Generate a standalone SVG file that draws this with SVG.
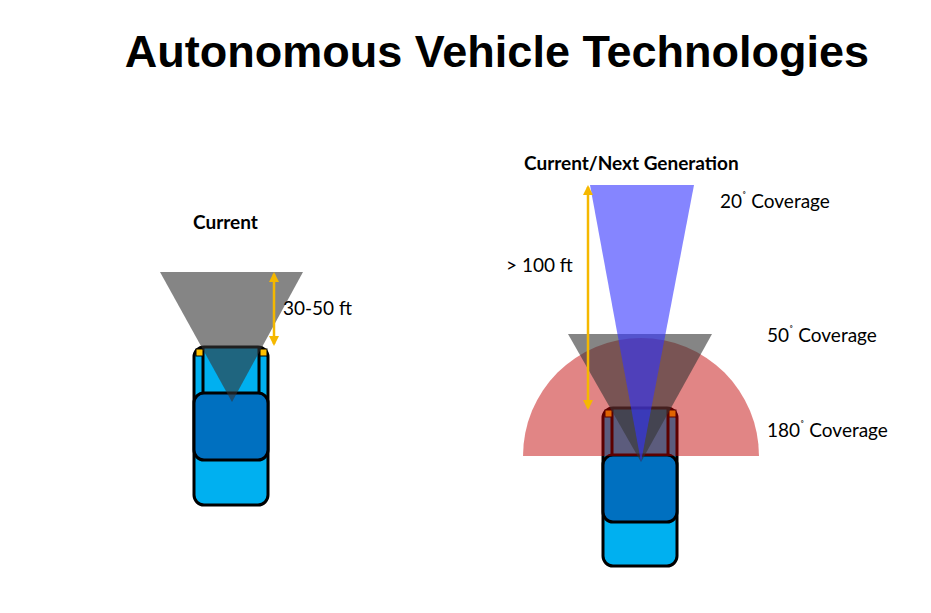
<svg xmlns="http://www.w3.org/2000/svg" width="931" height="613" viewBox="0 0 931 613">
<defs>
<style>
.body{fill:#00b0f0;stroke:#000;stroke-width:3}
.roof{fill:#0070c0;stroke:#000;stroke-width:3}
.ln{stroke:#000;stroke-width:3;fill:none}
.sq{fill:#ffc000;stroke:#000;stroke-width:1}
.lbl{font-family:Lato,"Open Sans",sans-serif;font-size:19px;fill:#000}
.hd{font-family:Lato,"Open Sans",sans-serif;font-size:19px;font-weight:bold;fill:#000}
.arr{stroke:#f5b800;stroke-width:2.5;fill:none}
</style>
<marker id="ah" viewBox="0 0 10 10" refX="8" refY="5" markerWidth="4" markerHeight="4" orient="auto-start-reverse"><path d="M0,0L10,5L0,10z" fill="#f5b800"/></marker>
</defs>
<rect width="931" height="613" fill="#fff"/>
<text x="497" y="67" text-anchor="middle" font-family="'Liberation Sans',Arial,sans-serif" font-weight="bold" font-size="45">Autonomous Vehicle Technologies</text>
<g id="car-left">
<rect class="body" x="194" y="347" width="74" height="158" rx="10"/>
<path class="ln" d="M203,348V393M259,348V393"/>
<rect class="roof" x="194" y="393" width="74" height="67" rx="10"/>
<rect class="sq" x="196" y="349" width="7" height="7"/>
<rect class="sq" x="260" y="349" width="7" height="7"/>
</g>
<g id="coverage-left">
<polygon points="160,272 303,272 232,402" fill="#333" fill-opacity="0.6"/>
</g>
<g id="car-right">
<rect class="body" x="603" y="408" width="74" height="158" rx="10"/>
<path class="ln" d="M612,409V455M668,409V455"/>
<rect class="roof" x="603" y="455" width="74" height="67" rx="10"/>
<rect class="sq" x="605" y="410" width="7" height="7"/>
<rect class="sq" x="669" y="410" width="7" height="7"/>
</g>
<g id="coverage-right">
<path d="M523,456A118,118 0 0 1 759,456Z" fill="#c00000" fill-opacity="0.48"/>
<polygon points="568,334 712,334 641,462" fill="#333" fill-opacity="0.6"/>
<polygon points="590,185 694,185 641,462" fill="#3333ff" fill-opacity="0.6"/>
</g>
<g id="connectors">
<line class="arr" x1="274" y1="274" x2="274" y2="344" marker-start="url(#ah)" marker-end="url(#ah)"/>
<line class="arr" x1="588" y1="187" x2="588" y2="408" marker-start="url(#ah)" marker-end="url(#ah)"/>
</g>
<g id="labels">
<text class="hd" x="193" y="229">Current</text>
<text class="hd" x="524" y="170">Current/Next Generation</text>
<text class="lbl" x="283" y="315">30-50 ft</text>
<text class="lbl" x="506" y="272">&gt; 100 ft</text>
<text class="lbl" x="720" y="208">20<tspan dy="-8" font-size="11">˚</tspan><tspan dy="8"> Coverage</tspan></text>
<text class="lbl" x="767" y="342">50<tspan dy="-8" font-size="11">˚</tspan><tspan dy="8"> Coverage</tspan></text>
<text class="lbl" x="767" y="437">180<tspan dy="-8" font-size="11">˚</tspan><tspan dy="8"> Coverage</tspan></text>
</g>
</svg>
